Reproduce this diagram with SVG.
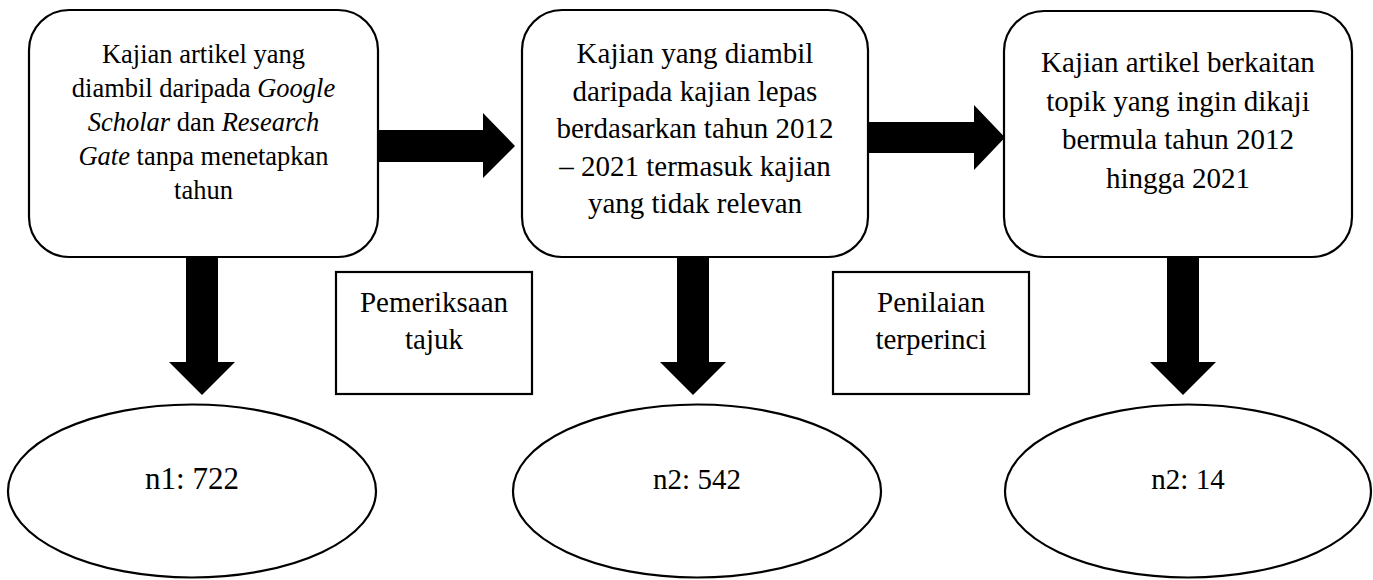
<svg xmlns="http://www.w3.org/2000/svg" width="1373" height="580" viewBox="0 0 1373 580">
<style>
.box{fill:#fff;stroke:#000;stroke-width:2.2}
.arr{fill:#000;stroke:none}
.t1{font-size:26.5px}
.t2{font-size:29px}
.it{font-style:italic}
</style>
<rect width="1373" height="580" fill="#fff"/>
<g id="connectors">
<polygon class="arr" points="375,130 483,130 483,113 515,146 483,178 483,162 375,162"/>
<polygon class="arr" points="866,122 974,122 974,105 1005,137.5 974,170 974,153 866,153"/>
<polygon class="arr" points="186,254 218,254 218,362 235,362 202,395 169,362 186,362"/>
<polygon class="arr" points="677,254 709,254 709,362 726,362 693,395 660,362 677,362"/>
<polygon class="arr" points="1167,254 1199,254 1199,362 1216,362 1183,395 1150,362 1167,362"/>
</g>
<g font-family="Liberation Serif, Times New Roman, serif" text-anchor="middle" fill="#000">
<g id="box1">
<rect class="box" x="29" y="10" width="349" height="247" rx="40" ry="40"/>
<text class="t1" x="203.5" y="63">Kajian artikel yang</text>
<text class="t1" x="203.5" y="97">diambil daripada <tspan class="it">Google</tspan></text>
<text class="t1" x="203.5" y="131"><tspan class="it">Scholar</tspan> dan <tspan class="it">Research</tspan></text>
<text class="t1" x="203.5" y="165"><tspan class="it">Gate</tspan> tanpa menetapkan</text>
<text class="t1" x="203.5" y="199">tahun</text>
</g>
<g id="box2">
<rect class="box" x="522" y="10" width="346" height="247" rx="40" ry="40"/>
<text class="t2" x="695" y="63">Kajian yang diambil</text>
<text class="t2" x="695" y="100.5">daripada kajian lepas</text>
<text class="t2" x="695" y="138">berdasarkan tahun 2012</text>
<text class="t2" x="695" y="175.5">– 2021 termasuk kajian</text>
<text class="t2" x="695" y="213">yang tidak relevan</text>
</g>
<g id="box3">
<rect class="box" x="1004" y="11" width="348" height="246" rx="40" ry="40"/>
<text class="t2" x="1178" y="72">Kajian artikel berkaitan</text>
<text class="t2" x="1178" y="110.5">topik yang ingin dikaji</text>
<text class="t2" x="1178" y="149">bermula tahun 2012</text>
<text class="t2" x="1178" y="187.5">hingga 2021</text>
</g>
<g id="label1">
<rect class="box" x="336" y="272" width="196" height="122"/>
<text class="t2" x="434" y="312">Pemeriksaan</text>
<text class="t2" x="434" y="348.5">tajuk</text>
</g>
<g id="label2">
<rect class="box" x="833" y="272" width="196" height="122"/>
<text class="t2" x="931" y="311.5">Penilaian</text>
<text class="t2" x="931" y="349">terperinci</text>
</g>
<g id="count1">
<ellipse class="box" cx="192" cy="491" rx="184" ry="86.5"/>
<text x="192" y="489" font-size="31">n1: 722</text>
</g>
<g id="count2">
<ellipse class="box" cx="697" cy="491" rx="184" ry="86.5"/>
<text class="t2" x="697" y="489">n2: 542</text>
</g>
<g id="count3">
<ellipse class="box" cx="1188" cy="491" rx="183" ry="86.5"/>
<text class="t2" x="1188" y="489">n2: 14</text>
</g>
</g>
</svg>
